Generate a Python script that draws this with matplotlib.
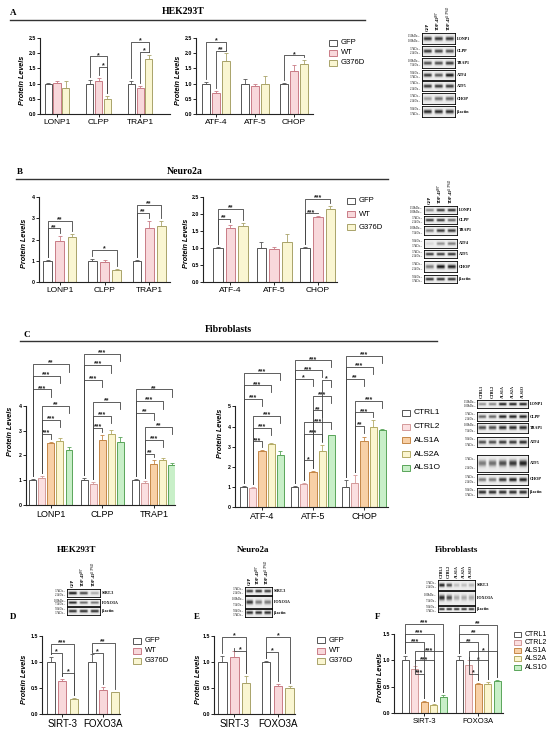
import numpy as np
import matplotlib
matplotlib.use('Agg')
import matplotlib.pyplot as plt
from matplotlib.patches import Rectangle

plt.rcParams['font.family'] = ['Liberation Sans', 'DejaVu Sans']
SERIF = ['Liberation Serif', 'DejaVu Serif']

W, H = 550, 732
fig = plt.figure(figsize=(5.5, 7.32), dpi=100)

# ---------------- data ----------------
groups3 = ['GFP', 'WT', 'G376D']
groups5 = ['CTRL1', 'CTRL2', 'ALS1A', 'ALS2A', 'ALS1O']
cats_mito = ['LONP1', 'CLPP', 'TRAP1']
cats_isr = ['ATF-4', 'ATF-5', 'CHOP']
cats_sirt = ['SIRT-3', 'FOXO3A']

# A  HEK293T
a1_mean = [[1.0, 1.02, 0.87], [1.0, 1.09, 0.50], [1.0, 0.84, 1.80]]
a1_err = [[0.03, 0.08, 0.20], [0.12, 0.10, 0.10], [0.08, 0.08, 0.15]]
a1_sig = [(1, 0, 2, 1.90, '*'), (1, 1, 2, 1.55, '*'),
          (2, 0, 2, 2.37, '*'), (2, 1, 2, 2.05, '*')]
a2_mean = [[1.0, 0.70, 1.75], [1.0, 0.93, 1.00], [0.99, 1.41, 1.63]]
a2_err = [[0.05, 0.05, 0.25], [0.15, 0.05, 0.25], [0.02, 0.19, 0.14]]
a2_sig = [(0, 0, 2, 2.37, '*'), (0, 1, 2, 2.08, '**'), (2, 0, 2, 1.93, '*')]

# B  Neuro2a
b1_mean = [[1.0, 1.95, 2.12], [1.0, 0.92, 0.55], [1.0, 2.55, 2.65]]
b1_err = [[0.05, 0.20, 0.15], [0.10, 0.12, 0.05], [0.05, 0.30, 0.20]]
b1_sig = [(0, 0, 1, 2.53, '**'), (0, 0, 2, 2.87, '**'), (1, 0, 2, 1.50, '*'),
          (2, 0, 1, 3.25, '**'), (2, 0, 2, 3.62, '**')]
b2_mean = [[1.0, 1.60, 1.65], [1.0, 0.97, 1.19], [1.0, 1.91, 2.15]]
b2_err = [[0.02, 0.08, 0.10], [0.17, 0.06, 0.22], [0.02, 0.02, 0.08]]
b2_sig = [(0, 0, 1, 1.85, '**'), (0, 0, 2, 2.15, '**'),
          (2, 0, 1, 2.02, '***'), (2, 0, 2, 2.45, '***')]

# C  Fibroblasts
c1_mean = [[1.0, 1.10, 2.50, 2.60, 2.20], [1.0, 0.85, 2.62, 2.85, 2.55],
           [1.0, 0.90, 1.65, 1.83, 1.63]]
c1_err = [[0.03, 0.05, 0.05, 0.10, 0.12], [0.10, 0.08, 0.20, 0.18, 0.20],
          [0.05, 0.05, 0.15, 0.05, 0.08]]
c1_sig = [(0, 0, 2, 4.66, '***'), (0, 0, 3, 5.20, '***'), (0, 0, 4, 5.68, '**'),
          (0, 1, 2, 2.86, '***'), (0, 1, 3, 3.43, '***'), (0, 1, 4, 3.99, '**'),
          (1, 0, 2, 5.04, '***'), (1, 0, 3, 5.64, '***'), (1, 0, 4, 6.10, '***'),
          (1, 1, 2, 3.10, '***'), (1, 1, 3, 3.59, '***'), (1, 1, 4, 4.17, '**'),
          (2, 0, 2, 3.72, '**'), (2, 0, 3, 4.19, '***'), (2, 0, 4, 4.66, '**'),
          (2, 1, 2, 2.06, '**'), (2, 1, 3, 2.62, '***'), (2, 1, 4, 3.15, '**')]
c2_mean = [[1.0, 0.95, 2.80, 3.15, 2.57], [1.0, 1.15, 1.73, 2.78, 3.57],
           [1.0, 1.20, 3.30, 4.00, 3.82]]
c2_err = [[0.03, 0.05, 0.05, 0.05, 0.20], [0.02, 0.05, 0.05, 0.30, 0.03],
          [0.35, 0.40, 0.20, 0.35, 0.08]]
c2_sig = [(0, 0, 2, 5.37, '***'), (0, 0, 3, 6.05, '***'), (0, 0, 4, 6.67, '***'),
          (0, 1, 2, 3.27, '***'), (0, 1, 3, 3.93, '***'), (0, 1, 4, 4.54, '***'),
          (1, 0, 2, 6.37, '*'), (1, 0, 3, 6.80, '***'), (1, 0, 4, 7.29, '***'),
          (1, 3, 4, 6.33, '*'), (1, 2, 4, 5.54, '***'), (1, 2, 3, 4.81, '**'),
          (1, 1, 4, 4.21, '***'), (1, 1, 3, 3.65, '***'), (1, 1, 2, 2.32, '*'),
          (2, 0, 2, 6.37, '**'), (2, 0, 3, 6.97, '***'), (2, 0, 4, 7.53, '***'),
          (2, 1, 2, 4.05, '**'), (2, 1, 3, 4.71, '***'), (2, 1, 4, 5.29, '***')]

# D / E / F  SIRT-3, FOXO3A
d_mean = [[1.0, 0.63, 0.29], [1.0, 0.47, 0.42]]
d_err = [[0.10, 0.05, 0.01], [0.15, 0.05, 0.01]]
d_sig = [(0, 0, 1, 1.18, '*'), (0, 0, 2, 1.35, '***'), (0, 1, 2, 0.79, '*'),
         (1, 0, 1, 1.18, '*'), (1, 0, 2, 1.37, '**')]
e_mean = [[1.0, 1.09, 0.60], [1.0, 0.53, 0.50]]
e_err = [[0.12, 0.12, 0.14], [0.02, 0.05, 0.03]]
e_sig = [(0, 0, 2, 1.49, '*'), (0, 1, 2, 1.22, '*'),
         (1, 0, 1, 1.20, '*'), (1, 0, 2, 1.48, '*')]
f_mean = [[1.0, 0.84, 0.20, 0.16, 0.30], [1.0, 0.91, 0.56, 0.56, 0.61]]
f_err = [[0.08, 0.06, 0.03, 0.01, 0.05], [0.08, 0.10, 0.01, 0.02, 0.02]]
f_sig = [(0, 0, 4, 1.69, '***'), (0, 0, 3, 1.50, '***'), (0, 0, 2, 1.34, '***'),
         (0, 1, 4, 1.17, '***'), (0, 1, 3, 1.00, '***'), (0, 1, 2, 0.75, '***'),
         (1, 0, 4, 1.67, '**'), (1, 0, 3, 1.50, '**'), (1, 0, 2, 1.34, '**'),
         (1, 1, 4, 1.17, '*'), (1, 1, 3, 1.00, '*'), (1, 1, 2, 0.75, '*')]

# western blots: lane names, row names, marker sizes, band darkness per lane
lanes3 = ['GFP', 'TDP-43$^{WT}$', 'TDP-43$^{G376D}$']
lanes5 = ['CTRL1', 'CTRL2', 'ALS1A', 'ALS2A', 'ALS1O']
blot_rows = ['LONP1', 'CLPP', 'TRAP1', 'ATF4', 'ATF5', 'CHOP', 'β-actin']
blot_kda = [('150kDa', '100kDa'), ('37kDa', '25kDa'), ('100kDa', '75kDa'),
            ('50kDa', '37kDa'), ('37kDa', '25kDa'), ('37kDa', '25kDa'),
            ('50kDa', '37kDa')]
bands_a = [[0.8, 0.8, 0.8], [0.8, 0.75, 0.7], [0.7, 0.7, 0.8], [0.8, 0.65, 0.95],
           [0.8, 0.8, 0.8], [0.35, 0.55, 0.6], [0.85, 0.85, 0.85]]
bands_b = [[0.45, 0.8, 0.85], [0.8, 0.8, 0.6], [0.5, 0.8, 0.8], [0.1, 0.4, 0.5],
           [0.8, 0.8, 0.85], [0.5, 0.95, 0.9], [0.85, 0.85, 0.85]]
bands_c = [[0.4, 0.45, 0.9, 0.9, 0.9], [0.6, 0.6, 0.9, 0.9, 0.9],
           [0.7, 0.7, 0.85, 0.85, 0.85], [0.7, 0.7, 0.8, 0.8, 0.85],
           [0.5, 0.55, 0.7, 0.8, 0.9], [0.5, 0.5, 0.8, 0.9, 0.9],
           [0.85, 0.85, 0.85, 0.85, 0.85]]
sirt_rows = ['SIRT-3', 'FOXO3A', 'β-actin']
sirt_kda = [('37kDa', '25kDa'), ('100kDa', '75kDa'), ('50kDa', '37kDa')]
bands_d = [[0.95, 0.75, 0.3], [0.9, 0.6, 0.55], [0.85, 0.85, 0.85]]
bands_e = [[0.8, 0.85, 0.8], [0.8, 0.5, 0.5], [0.85, 0.85, 0.85]]
bands_f = [[0.9, 0.7, 0.2, 0.2, 0.25], [0.85, 0.7, 0.3, 0.3, 0.3],
           [0.9, 0.9, 0.9, 0.9, 0.9]]

faces3 = ['white', '#f8d8db', '#faf6d2']
edges3 = ['#555555', '#c97c86', '#a9a36a']
faces5 = ['white', '#fbdfe0', '#f8d0a6', '#fbf5cf', '#c8efc8']
edges5 = ['#555555', '#d49a9a', '#c58848', '#b4ab66', '#5aa55a']


# ---------------- helpers ----------------
def ax_px(x0, y0, x1, y1):
    return fig.add_axes([x0 / W, 1 - y1 / H, (x1 - x0) / W, (y1 - y0) / H])


def ftext(x, y, s, **kw):
    fig.text(x / W, 1 - y / H, s, **kw)


def bar_panel(box, cats, means, errs, sig, faces, edges, off, width, xlim,
              ylim, ticks, ticklabels, ylab_x, cat_fs=6, rleg=None):
    ax = ax_px(*box)
    n = len(faces)
    x = np.arange(len(cats))
    for k in range(n):
        pos = x + (k - (n - 1) / 2) * off
        vals = [m[k] for m in means]
        e = [er[k] for er in errs]
        ax.bar(pos, vals, width, color=faces[k], edgecolor=edges[k],
               linewidth=0.7, zorder=2)
        ax.errorbar(pos, vals, yerr=[np.zeros(len(vals)), e], fmt='none',
                    ecolor=edges[k], elinewidth=0.6, capsize=1.1,
                    capthick=0.6, zorder=3)
    ax.set_xlim(*xlim)
    ax.set_ylim(*ylim)
    px_unit = (ylim[1] - ylim[0]) / (box[3] - box[1])
    gap = 3 * px_unit
    for c, i, j, y, lab in sig:
        xi = c + (i - (n - 1) / 2) * off
        xj = c + (j - (n - 1) / 2) * off
        yi = means[c][i] + errs[c][i] + gap
        yj = means[c][j] + errs[c][j] + gap
        if rleg is not None:
            yj = max(yj, y - rleg)
        ax.plot([xi, xi, xj, xj], [yi, y, y, yj], color='#444444', lw=0.6,
                clip_on=False, zorder=4)
        ax.text((xi + xj) / 2, y - 2.5 * px_unit, lab, ha='center', va='bottom',
                fontsize=5, fontweight='bold', color='#222222')
    for s in ['top', 'right']:
        ax.spines[s].set_visible(False)
    ax.spines['left'].set_bounds(ticks[0], ticks[-1])
    for s in ['left', 'bottom']:
        ax.spines[s].set_linewidth(0.8)
        ax.spines[s].set_color('#222222')
    ax.set_yticks(ticks)
    ax.set_yticklabels(ticklabels, fontsize=3.8, fontweight='bold')
    ax.set_xticks(x)
    ax.set_xticklabels(cats, fontsize=cat_fs)
    ax.tick_params(axis='y', length=2, width=0.6, pad=0.8)
    ax.tick_params(axis='x', length=2, width=0.6, pad=1.5)
    ax.patch.set_alpha(0)
    ftext(ylab_x, (box[1] + box[3]) / 2 + 4, 'Protein Levels', rotation=90,
          ha='center', va='center', fontsize=5.2, fontstyle='italic',
          fontweight='bold')
    return ax


def legend_px(x, y, labels, faces, edges, step, fs=5.5, pw=8, ph=6):
    for k, lab in enumerate(labels):
        yy = y + k * step
        fig.patches.append(Rectangle(((x) / W, 1 - (yy + ph / 2) / H), pw / W,
                                     ph / H, transform=fig.transFigure,
                                     facecolor=faces[k], edgecolor=edges[k],
                                     lw=0.7))
        ftext(x + pw + 4, yy, lab, ha='left', va='center', fontsize=fs)


def header(letter, lx, ly, title, tx, ty, line_x0, line_x1, line_y):
    ftext(lx, ly, letter, fontsize=6.5, fontweight='bold', family=SERIF,
          ha='center', va='center')
    ftext(tx, ty, title, fontsize=7, fontweight='bold', family=SERIF,
          ha='center', va='center')
    fig.add_artist(plt.Line2D([line_x0 / W, line_x1 / W],
                              [1 - line_y / H, 1 - line_y / H], color='#333333',
                              lw=1.0))


def blot(x0, x1, rows_y, names, kda, bands, lanes, lane_y, fs=3):
    nl = len(lanes)
    lane_w = (x1 - x0) / nl
    for (ya, yb), name, (m1, m2), lev in zip(rows_y, names, kda, bands):
        ax = ax_px(x0, ya, x1, yb)
        hgt = 40
        wid = 20 * nl
        yy, xx = np.mgrid[0:hgt, 0:wid]
        img = np.full((hgt, wid), 0.93)
        for k, v in enumerate(lev):
            cx = (k + 0.5) * 20
            prof_x = np.exp(-((xx - cx) / 7.5) ** 8)
            prof_y = np.exp(-((yy - hgt / 2) / (hgt * 0.17)) ** 2)
            img -= v * 0.9 * prof_x * prof_y
        ax.imshow(np.clip(img, 0, 1), cmap='gray', vmin=0, vmax=1,
                  aspect='auto', interpolation='bilinear')
        ax.set_xticks([])
        ax.set_yticks([])
        for s in ax.spines.values():
            s.set_linewidth(0.6)
        ftext(x1 + 1.5, (ya + yb) / 2, name, fontsize=fs, fontweight='bold',
              family=SERIF, ha='left', va='center')
        ftext(x0 - 2, ya + (yb - ya) * 0.25, m1 + ' \u2013', fontsize=fs * 0.7,
              family=SERIF, ha='right', va='center')
        ftext(x0 - 2, ya + (yb - ya) * 0.75, m2 + ' \u2013', fontsize=fs * 0.7,
              family=SERIF, ha='right', va='center')
    for k, lab in enumerate(lanes):
        ftext(x0 + (k + 0.5) * lane_w, lane_y, lab, rotation=90, fontsize=fs,
              fontweight='bold', family=SERIF, ha='center', va='bottom')


# ---------------- panel A ----------------
header('A', 13, 13, 'HEK293T', 183, 11, 10, 365, 20)
tk25 = [0, 0.5, 1.0, 1.5, 2.0, 2.5]
tl25 = ['0.0', '0.5', '1.0', '1.5', '2.0', '2.5']
bar_panel((40, 38, 170, 114), cats_mito, a1_mean, a1_err, a1_sig, faces3,
          edges3, 0.21, 0.17, (-0.41, 2.72), (0, 2.5), tk25, tl25, 22)
bar_panel((196, 38, 313, 114), cats_isr, a2_mean, a2_err, a2_sig, faces3,
          edges3, 0.26, 0.2, (-0.51, 2.49), (0, 2.5), tk25, tl25, 178)
legend_px(329, 43, groups3, faces3, edges3, 10)
blot(422, 455, [(33, 44), (46, 56), (58, 68), (70, 80), (81, 91), (93, 104),
                (106, 117)], blot_rows, blot_kda, bands_a, lanes3, 31)

# ---------------- panel B ----------------
header('B', 20, 172, 'Neuro2a', 185, 172, 16, 388, 179)
bar_panel((39, 197, 170, 282), cats_mito, b1_mean, b1_err, b1_sig, faces3,
          edges3, 0.27, 0.2, (-0.47, 2.47), (0, 4), [0, 1, 2, 3, 4],
          ['0', '1', '2', '3', '4'], 24)
bar_panel((203, 197, 337, 282), cats_isr, b2_mean, b2_err, b2_sig, faces3,
          edges3, 0.29, 0.22, (-0.63, 2.44), (0, 2.5), tk25, tl25, 187)
legend_px(347, 201, groups3, faces3, edges3, 13)
blot(424, 457, [(206, 214), (216, 224), (226, 235), (239, 248), (250, 258),
                (261, 272), (275, 283)], blot_rows, blot_kda, bands_b, lanes3,
     204)

# ---------------- panel C ----------------
header('C', 27, 335, 'Fibroblasts', 228, 330, 20, 437, 341)
bar_panel((26, 349, 175, 505), cats_mito, c1_mean, c1_err, c1_sig, faces5,
          edges5, 0.175, 0.135, (-0.485, 2.41), (0, 6.29), [0, 1, 2, 3, 4],
          ['0', '1', '2', '3', '4'], 11, cat_fs=6.5, rleg=0.3)
bar_panel((235, 352, 388, 507), cats_isr, c2_mean, c2_err, c2_sig, faces5,
          edges5, 0.18, 0.14, (-0.53, 2.47), (0, 7.71), [0, 1, 2, 3, 4, 5],
          ['0', '1', '2', '3', '4', '5'], 221, cat_fs=6.5, rleg=0.35)
legend_px(402, 413, groups5, faces5, edges5, 13.7, fs=6)
blot(477, 528, [(400, 408), (412, 421), (423, 433), (437, 447), (455, 472),
                (474, 485), (488, 497)], blot_rows, blot_kda, bands_c, lanes5,
     398)

# ---------------- panels D, E, F ----------------
tk15 = [0, 0.5, 1.0, 1.5]
tl15 = ['0.0', '0.5', '1.0', '1.5']
ftext(77, 550, 'HEK293T', fontsize=6.5, fontweight='bold', family=SERIF,
      ha='center', va='center')
ftext(253, 550, 'Neuro2a', fontsize=6.5, fontweight='bold', family=SERIF,
      ha='center', va='center')
ftext(457, 550, 'Fibroblasts', fontsize=6.5, fontweight='bold', family=SERIF,
      ha='center', va='center')
for lt, lx in [('D', 13), ('E', 197), ('F', 378)]:
    ftext(lx, 617, lt, fontsize=6.5, fontweight='bold', family=SERIF,
          ha='center', va='center')

bar_panel((42, 636, 120, 714), cats_sirt, d_mean, d_err, d_sig, faces3,
          edges3, 0.28, 0.2, (-0.49, 1.41), (0, 1.5), tk15, tl15, 24,
          cat_fs=7)
legend_px(133, 641, groups3, faces3, edges3, 10)
blot(67, 100, [(589, 597), (599, 606), (607, 615)], sirt_rows, sirt_kda,
     bands_d, lanes3, 587)

bar_panel((214, 636, 295, 714), cats_sirt, e_mean, e_err, e_sig, faces3,
          edges3, 0.27, 0.2, (-0.46, 1.39), (0, 1.5), tk15, tl15, 198,
          cat_fs=7)
legend_px(317, 640, groups3, faces3, edges3, 10.5)
blot(245, 272, [(587, 595), (596, 608), (609, 617)], sirt_rows, sirt_kda,
     bands_e, lanes3, 585)

bar_panel((394, 634, 503, 713), cats_sirt, f_mean, f_err, f_sig, faces5,
          edges5, 0.175, 0.13, (-0.56, 1.46), (0, 1.5), tk15, tl15, 380,
          cat_fs=5.5)
legend_px(514, 634, groups5, faces5, edges5, 8.3, fs=5, pw=7, ph=5)
blot(438, 475, [(580, 590), (591, 605), (606, 612)], sirt_rows, sirt_kda,
     bands_f, lanes5, 578)

fig.savefig('out.png', dpi=100)
